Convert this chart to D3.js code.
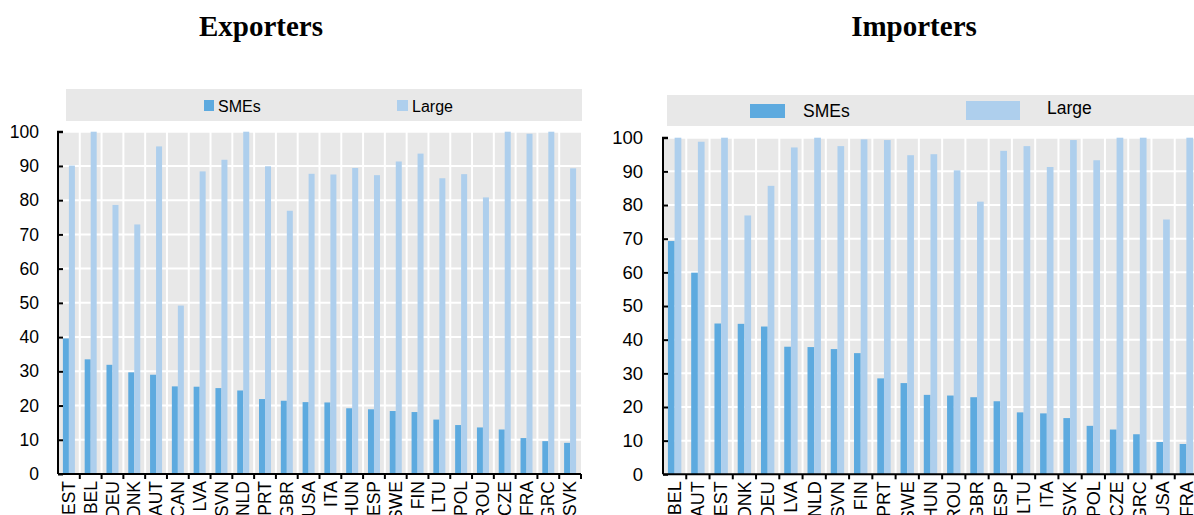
<!DOCTYPE html>
<html><head><meta charset="utf-8">
<script src="https://cdn.jsdelivr.net/npm/d3@7/dist/d3.min.js"></script>
<style>
html,body{margin:0;padding:0;background:#fff;}
svg{display:block;}
text{font-family:"Liberation Sans",Arial,sans-serif;fill:#000;}
</style></head>
<body><svg id="chart" width="1194" height="515"></svg>
<script>
// ---- Data ----
const seriesNames = ["SMEs", "Large"];
const yTickValues = [0,10,20,30,40,50,60,70,80,90,100];

const exportCats  = ["EST","BEL","DEU","DNK","AUT","CAN","LVA","SVN","NLD","PRT","GBR","USA","ITA","HUN","ESP","SWE","FIN","LTU","POL","ROU","CZE","FRA","GRC","SVK"];
const exportSMEs  = [39.6,33.5,31.9,29.7,29.0,25.6,25.5,25.1,24.4,21.9,21.4,21.0,20.9,19.2,18.9,18.4,18.1,15.9,14.3,13.6,13.0,10.5,9.6,9.1];
const exportLarge = [90.1,100,78.6,72.9,95.7,49.2,88.4,91.8,100,89.9,76.9,87.7,87.5,89.4,87.3,91.3,93.6,86.4,87.6,80.8,100,99.4,100,89.3];

const importCats  = ["BEL","AUT","EST","DNK","DEU","LVA","NLD","SVN","FIN","PRT","SWE","HUN","ROU","GBR","ESP","LTU","ITA","SVK","POL","CZE","GRC","USA","FRA"];
const importSMEs  = [69.3,59.9,44.8,44.7,43.9,37.9,37.8,37.2,36.0,28.5,27.1,23.6,23.4,22.9,21.7,18.4,18.1,16.7,14.4,13.3,11.9,9.6,9.0];
const importLarge = [100,98.8,100,76.9,85.7,97.1,100,97.5,99.5,99.3,94.8,95.1,90.3,81.0,96.1,97.5,91.3,99.3,93.3,100,100,75.7,100];

// ---- Styles ----
const colSME = "#5DAADF", colLarge = "#AECFED", bgGrey = "#E8E8E8";
const svg = d3.select("#chart");

function panel(o){
  const g = svg.append("g");
  const x = d3.scaleBand().domain(o.cats).range([o.x0, o.x1]).padding(0);
  const y = d3.scaleLinear().domain([0,100]).range([o.y0, o.y1]);
  const bw = x.bandwidth();
  const xs = d3.scaleBand().domain(seriesNames).range([bw/2 - o.barW, bw/2 + o.barW]).padding(0);

  // title
  g.append("text").attr("x", o.titleX).attr("y", 36).attr("text-anchor","middle")
    .style("font-family","'Liberation Serif','Times New Roman',serif").style("font-weight","bold")
    .style("font-size","29px").text(o.title);

  // legend
  g.append("rect").attr("x", o.leg.x0).attr("y", o.leg.y0).attr("width", o.leg.x1-o.leg.x0).attr("height", o.leg.y1-o.leg.y0).attr("fill", bgGrey);
  o.leg.items.forEach((it,i)=>{
    g.append("rect").attr("x", it.sx).attr("y", it.sy).attr("width", it.sw).attr("height", it.sh).attr("fill", i===0?colSME:colLarge);
    g.append("text").attr("x", it.tx).attr("y", it.ty).style("font-size", o.leg.fs+"px").text(seriesNames[i]);
  });

  // plot background
  g.append("rect").attr("x", o.x0).attr("y", y(100)).attr("width", o.x1-o.x0).attr("height", y(0)-y(100)).attr("fill", bgGrey);

  // gridlines
  g.append("g").selectAll("line").data(yTickValues.filter(d=>d>0)).join("line")
    .attr("x1", o.x0).attr("x2", o.x1).attr("y1", d=>y(d)).attr("y2", d=>y(d))
    .attr("stroke","#fff").attr("stroke-width",2);
  g.append("g").selectAll("line").data(o.cats.slice(1)).join("line")
    .attr("x1", d=>x(d)).attr("x2", d=>x(d)).attr("y1", y(100)).attr("y2", y(0))
    .attr("stroke","#fff").attr("stroke-width",2);

  // bars
  const data = o.cats.map((c,i)=>({c, v:[o.sme[i], o.large[i]]}));
  const grp = g.append("g").selectAll("g").data(data).join("g").attr("transform", d=>`translate(${x(d.c)},0)`);
  grp.selectAll("rect").data(d=>d.v.map((v,k)=>({k:seriesNames[k], v}))).join("rect")
    .attr("x", d=>xs(d.k)).attr("width", xs.bandwidth())
    .attr("y", d=>y(d.v)).attr("height", d=>y(0)-y(d.v))
    .attr("fill", d=>d.k==="SMEs"?colSME:colLarge);

  // y axis
  const ya = g.append("g").attr("transform", `translate(${o.x0},0)`)
    .call(d3.axisRight(y).tickValues(yTickValues).tickSize(o.tick).tickFormat(""));
  ya.select(".domain").attr("stroke","#000").attr("stroke-width",2).attr("d", `M${o.tick},${y(100)}H0V${y(0)}`);
  ya.selectAll(".tick line").attr("stroke","#000").attr("stroke-width",2);
  g.append("g").selectAll("text").data(yTickValues).join("text")
    .attr("x", o.x0 - o.labGap).attr("y", d=>y(d)).attr("dy","0.35em").attr("text-anchor","end")
    .style("font-size", o.yfs+"px").text(d=>d);

  // x axis
  const xa = g.append("g").attr("transform", `translate(0,${y(0)})`)
    .call(d3.axisBottom(x).tickSize(0).tickFormat(""));
  xa.select(".domain").attr("stroke","#000").attr("stroke-width",2).attr("d", `M${o.x0},0H${o.x1}`);
  xa.selectAll(".tick").remove();
  g.append("g").selectAll("line").data(o.cats.slice(1).concat(["__end"])).join("line")
    .attr("x1", d=>d==="__end"?o.x1:x(d)).attr("x2", d=>d==="__end"?o.x1:x(d))
    .attr("y1", y(0)).attr("y2", y(0)+o.tick).attr("stroke","#000").attr("stroke-width",2);
  g.append("g").selectAll("text").data(o.cats).join("text")
    .attr("transform", d=>`translate(${x(d)+bw/2},${y(0)+7}) rotate(-90)`)
    .attr("dy","0.35em").attr("text-anchor","end")
    .style("font-size", o.xfs+"px").text(d=>d);
}

panel({
  title:"Exporters", titleX:261,
  cats:exportCats, sme:exportSMEs, large:exportLarge,
  x0:58, x1:581, y0:474, y1:131.7, barW:6, tick:5, labGap:19, yfs:17.5, xfs:17.5,
  leg:{x0:66, x1:582, y0:89, y1:121, fs:16, items:[
    {sx:204, sy:100, sw:10, sh:11, tx:218, ty:112},
    {sx:397, sy:100, sw:11, sh:11, tx:412, ty:112}
  ]}
});
panel({
  title:"Importers", titleX:914,
  cats:importCats, sme:importSMEs, large:importLarge,
  x0:663, x1:1198, y0:474.3, y1:137.7, barW:6.7, tick:5, labGap:20, yfs:18.5, xfs:18,
  leg:{x0:667, x1:1194, y0:95, y1:126, fs:17.5, items:[
    {sx:750, sy:104, sw:35, sh:14, tx:803, ty:117},
    {sx:966, sy:101, sw:54, sh:19, tx:1047, ty:114}
  ]}
});
</script></body></html>
